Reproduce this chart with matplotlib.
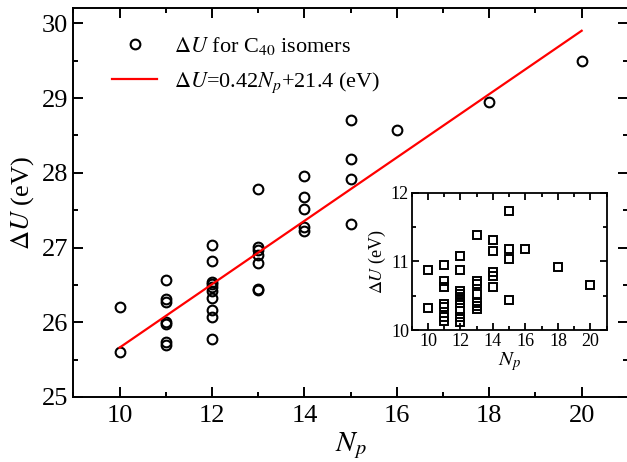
import numpy as np
import matplotlib
matplotlib.use("Agg")
import matplotlib.pyplot as plt
from matplotlib.ticker import MultipleLocator

plt.rcParams.update({
    "font.family": "serif",
    "font.serif": ["Liberation Serif", "DejaVu Serif"],
    "mathtext.fontset": "stix",
})

# number of pentagon pairs N_p for each C40 isomer
np_main = [10, 10,
           11, 11, 11, 11, 11, 11, 11,
           12, 12, 12, 12, 12, 12, 12, 12, 12, 12,
           13, 13, 13, 13, 13, 13, 13,
           14, 14, 14, 14, 14,
           15, 15, 15, 15,
           16, 18, 20]
du_main = [26.21, 25.60,
           26.57, 26.31, 26.27, 26.00, 25.98, 25.73, 25.70,
           27.04, 26.82, 26.54, 26.51, 26.47, 26.42, 26.33, 26.16, 26.07, 25.77,
           27.78, 27.01, 26.96, 26.90, 26.79, 26.45, 26.43,
           27.95, 27.67, 27.52, 27.27, 27.22,
           28.70, 28.18, 27.91, 27.31,
           28.57, 28.94, 29.50]

# linear fit drawn from N_p = 10 to 20
fit_x = [10, 20]
fit_y = [25.66, 29.90]

# inset: second energy quantity
np_inset = np_main
du_inset = [10.87, 10.32,
            10.94, 10.72, 10.62, 10.38, 10.33, 10.19, 10.13,
            11.08, 10.88, 10.57, 10.52, 10.48, 10.44, 10.40, 10.27, 10.19, 10.12,
            11.39, 10.72, 10.67, 10.53, 10.39, 10.35, 10.31,
            11.31, 11.15, 10.84, 10.78, 10.63,
            11.74, 11.18, 11.03, 10.43,
            11.18, 10.92, 10.65]


def style_ticks(ax, major, minor, width, lsize):
    ax.tick_params(which="both", direction="in", top=True, right=True,
                   width=width, labelsize=lsize)
    ax.tick_params(which="major", length=major)
    ax.tick_params(which="minor", length=minor)
    for s in ax.spines.values():
        s.set_linewidth(width)


fig = plt.figure(figsize=(6.27, 4.62), dpi=100)
ax = fig.add_axes([0.1169, 0.1407, 0.8845, 0.8413])

ax.plot(np_main, du_main, "o", ms=7, mfc="none", mec="black", mew=1.5,
        label=r"$\Delta U$ for C$_{40}$ isomers")
ax.plot(fit_x, fit_y, "-", color="#ff0000", lw=1.6,
        label=r"$\Delta U$=0.42$N_p$+21.4 (eV)")

ax.set_xlim(9, 21)
ax.set_ylim(25, 30.2)
ax.xaxis.set_major_locator(MultipleLocator(2))
ax.xaxis.set_minor_locator(MultipleLocator(1))
ax.yaxis.set_major_locator(MultipleLocator(1))
ax.yaxis.set_minor_locator(MultipleLocator(0.5))
style_ticks(ax, 7, 3.5, 1.4, 19)
ax.tick_params(axis="x", pad=6)
ax.set_xlabel(r"$N_p$", fontsize=21, labelpad=2)
ax.set_ylabel(r"$\Delta U$ (eV)", fontsize=19, labelpad=4)

ax.legend(loc="upper left", bbox_to_anchor=(0.0546, 0.9555), frameon=False,
          fontsize=16, numpoints=1, handlelength=2.0, handletextpad=0.75,
          labelspacing=0.63, borderaxespad=0, borderpad=0.4)

ins = fig.add_axes([0.6566, 0.2857, 0.311, 0.2972])
ins.plot(np_inset, du_inset, "s", ms=6, mfc="none", mec="black", mew=1.4)
ins.set_xlim(9, 21)
ins.set_ylim(10, 12)
ins.xaxis.set_major_locator(MultipleLocator(2))
ins.xaxis.set_minor_locator(MultipleLocator(1))
ins.yaxis.set_major_locator(MultipleLocator(1))
ins.yaxis.set_minor_locator(MultipleLocator(0.5))
style_ticks(ins, 5, 3, 1.3, 13)
ins.tick_params(pad=2)
ins.set_xlabel(r"$N_p$", fontsize=15, labelpad=0)
ins.set_ylabel(r"$\Delta U$ (eV)", fontsize=13, labelpad=2)

fig.savefig("out.png", dpi=100)
